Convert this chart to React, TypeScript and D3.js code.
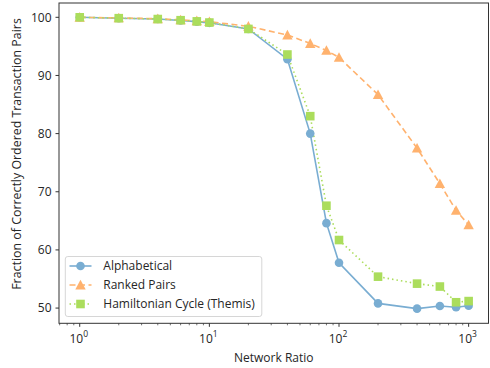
import React from "react";
import * as d3 from "d3";

const xValues = [1, 2, 4, 6, 8, 10, 20, 40, 60, 80, 100, 200, 400, 600, 800, 1000];
const alphabetical = [100, 99.85, 99.7, 99.45, 99.25, 99.05, 98.0, 92.8, 80.0, 64.6, 57.8, 50.8, 49.9, 50.35, 50.15, 50.4];
const rankedPairs = [100, 99.9, 99.75, 99.55, 99.4, 99.25, 98.45, 96.95, 95.5, 94.3, 93.1, 86.7, 77.5, 71.4, 66.8, 64.3];
const hamiltonian = [100, 99.85, 99.7, 99.5, 99.3, 99.1, 98.0, 93.6, 83.0, 67.6, 61.7, 55.4, 54.2, 53.7, 51.0, 51.2];
const seriesNames = ["Alphabetical", "Ranked Pairs", "Hamiltonian Cycle (Themis)"];
const yTicks = [50, 60, 70, 80, 90, 100];
const xMajor = [1, 10, 100, 1000];
const xLabel = "Network Ratio";
const yLabel = "Fraction of Correctly Ordered Transaction Pairs";

const W = 490, H = 368;
const L = 59, R = 488.5, T = 3, B = 323.3;
const FONT = "'Open Sans', 'DejaVu Sans', sans-serif";
const TXT = "#262626";

const colors = ["#79add2", "#ffb26e", "#abdd5c"];
const dashes = ["none", "6,3.5", "1.5,3"];

export default function App() {
  const x = d3.scaleLog().domain([0.692, 1423]).range([L, R]);
  const y = d3.scaleLinear().domain([47.38, 102.46]).range([B, T]);
  const data = [alphabetical, rankedPairs, hamiltonian];
  const line = d3.line<[number, number]>().x(d => x(d[0])).y(d => y(d[1]));

  const minor: number[] = [];
  for (let e = -1; e <= 3; e++) {
    for (let k = 2; k <= 9; k++) {
      const v = k * Math.pow(10, e);
      if (v >= 0.692 && v <= 1423) minor.push(v);
    }
  }

  const marker = (i: number, cx: number, cy: number, key: string) => {
    const c = colors[i];
    if (i === 0) return <circle key={key} cx={cx} cy={cy} r={4.3} fill={c} />;
    if (i === 1) {
      const s = 5.2;
      return <path key={key} d={`M${cx},${cy - s} L${cx + s},${cy + s * 0.85} L${cx - s},${cy + s * 0.85} Z`} fill={c} />;
    }
    return <rect key={key} x={cx - 4.3} y={cy - 4.3} width={8.6} height={8.6} fill={c} />;
  };

  const legendY = [266, 285, 304];

  return (
    <svg width={W} height={H} style={{ position: "absolute", left: 0, top: 0, background: "#fff" }}>
      {data.map((vals, i) => (
        <path key={"l" + i} d={line(xValues.map((xv, j) => [xv, vals[j]]) as [number, number][]) || ""}
          fill="none" stroke={colors[i]} strokeWidth={1.6} strokeDasharray={dashes[i]} />
      ))}
      {data.map((vals, i) => (
        <g key={"m" + i}>{xValues.map((xv, j) => marker(i, x(xv), y(vals[j]), i + "-" + j))}</g>
      ))}
      <rect x={L} y={T} width={R - L} height={B - T} fill="none" stroke="#333" strokeWidth={1} />
      {yTicks.map(t => (
        <g key={"y" + t}>
          <line x1={L - 3.5} x2={L} y1={y(t)} y2={y(t)} stroke="#333" />
          <text x={L - 7.5} y={y(t)} dy="0.35em" textAnchor="end" fontFamily={FONT} fontSize={12} fill={TXT}>{t}</text>
        </g>
      ))}
      {minor.map((t, i) => (
        <line key={"mn" + i} x1={x(t)} x2={x(t)} y1={B} y2={B + 2} stroke="#333" strokeWidth={0.7} />
      ))}
      {xMajor.map((t, i) => (
        <g key={"xm" + t}>
          <line x1={x(t)} x2={x(t)} y1={B} y2={B + 3.5} stroke="#333" />
          <text x={x(t) - 1} y={342.5} textAnchor="middle" fontFamily={FONT} fontSize={12} fill={TXT}>
            10<tspan dy={-5.5} fontSize={8.5}>{i}</tspan>
          </text>
        </g>
      ))}
      <text x={(L + R) / 2} y={361.5} textAnchor="middle" fontFamily={FONT} fontSize={12} fill={TXT}>{xLabel}</text>
      <text transform={`translate(20.5, 154) rotate(-90)`} textAnchor="middle" fontFamily={FONT} fontSize={12.4} fill={TXT}>{yLabel}</text>
      <rect x={65.3} y={256.5} width={196.5} height={60} rx={2.5} fill="#fff" fillOpacity={0.8} stroke="#d6d6d6" strokeWidth={1} />
      {seriesNames.map((n, i) => (
        <g key={"lg" + i}>
          <line x1={69.5} x2={91.5} y1={legendY[i]} y2={legendY[i]} stroke={colors[i]} strokeWidth={1.6} strokeDasharray={dashes[i]} />
          {marker(i, 80.5, legendY[i], "lm" + i)}
          <text x={103.3} y={legendY[i]} dy="0.35em" fontFamily={FONT} fontSize={12} fill={TXT}>{n}</text>
        </g>
      ))}
    </svg>
  );
}
